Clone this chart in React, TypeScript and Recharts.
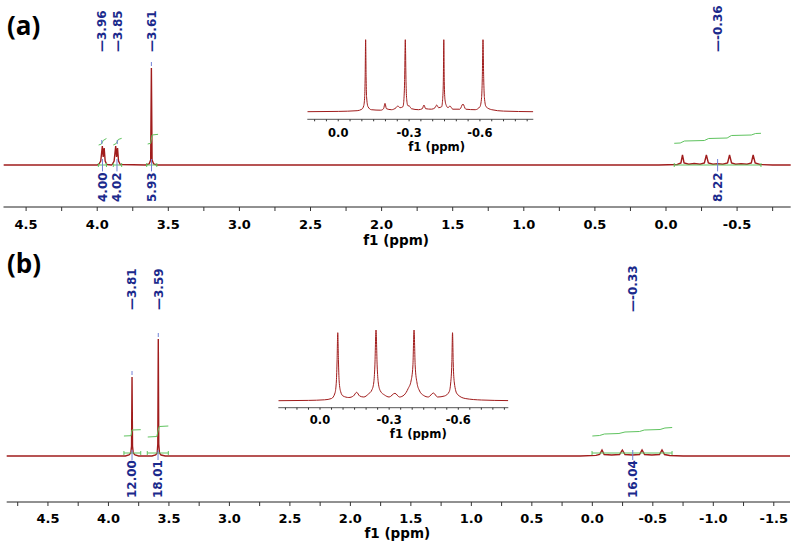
import React from 'react';
import { LineChart, Line, XAxis, YAxis, ReferenceDot, ReferenceLine } from 'recharts';

// spectrum (a): [ppm, intensity]
const spectrumA = [
  [4.66, 0], [4.0, 0], [3.99, 0.5], [3.975, 4], [3.964, 19], [3.958, 8], [3.951, 17], [3.944, 4], [3.932, 0.5], [3.9, 0],
  [3.895, 0.5], [3.881, 4], [3.87, 19], [3.864, 8], [3.857, 17], [3.85, 4], [3.838, 0.5], [3.66, 0],
  [3.635, 1], [3.624, 5], [3.619, 97], [3.614, 5], [3.603, 1], [3.58, 0],
  [0.05, 0], [-0.08, 0.5], [-0.105, 2], [-0.116, 10], [-0.127, 2], [-0.16, 0.8], [-0.198, 1.5], [-0.24, 0.8],
  [-0.27, 2], [-0.284, 10], [-0.298, 2], [-0.33, 0.8], [-0.363, 1.3], [-0.4, 0.8], [-0.433, 2], [-0.447, 10],
  [-0.461, 2], [-0.49, 0.8], [-0.528, 1.3], [-0.57, 0.8], [-0.6, 2], [-0.613, 10], [-0.627, 2], [-0.66, 0.5],
  [-0.75, 0], [-0.88, 0],
];

// spectrum (b)
const spectrumB = [
  [4.85, 0], [3.86, 0], [3.83, 1], [3.815, 3], [3.809, 10], [3.805, 79], [3.801, 10], [3.795, 3], [3.78, 1], [3.75, 0],
  [3.64, 0], [3.61, 1], [3.597, 3], [3.592, 12], [3.588, 117], [3.584, 12], [3.578, 3], [3.565, 1], [3.53, 0],
  [0.1, 0], [-0.03, 0.6], [-0.06, 1.5], [-0.08, 6], [-0.098, 1.5], [-0.16, 1], [-0.225, 1.5], [-0.248, 6],
  [-0.27, 1.5], [-0.33, 1], [-0.39, 1.5], [-0.411, 6], [-0.432, 1.5], [-0.492, 1], [-0.555, 1.5], [-0.576, 6],
  [-0.597, 1.5], [-0.64, 0.5], [-0.75, 0], [-1.64, 0],
];

// zoomed quartets
const insetSpecA = [
  [0.131, 0], [0.0, 0.3], [-0.08, 1], [-0.1, 2.5], [-0.108, 6], [-0.112, 15], [-0.114, 35], [-0.116, 72],
  [-0.118, 35], [-0.12, 15], [-0.126, 5], [-0.14, 2], [-0.18, 1.5], [-0.192, 3], [-0.198, 8.3], [-0.204, 3],
  [-0.225, 2], [-0.245, 4], [-0.252, 5.7], [-0.262, 4], [-0.274, 5], [-0.278, 12], [-0.281, 30], [-0.284, 72],
  [-0.287, 30], [-0.29, 12], [-0.295, 6], [-0.301, 5.7], [-0.31, 3], [-0.34, 2], [-0.356, 3], [-0.363, 6.7],
  [-0.37, 3], [-0.395, 2.5], [-0.41, 4], [-0.417, 6.7], [-0.425, 4], [-0.438, 5], [-0.442, 12], [-0.445, 30],
  [-0.447, 72], [-0.449, 30], [-0.452, 12], [-0.458, 6], [-0.465, 4], [-0.473, 5.7], [-0.485, 2.5], [-0.515, 2.5],
  [-0.528, 7.7], [-0.54, 2.5], [-0.58, 2], [-0.6, 5], [-0.607, 14], [-0.61, 33], [-0.613, 72], [-0.616, 33],
  [-0.619, 14], [-0.626, 5], [-0.65, 2], [-0.7, 0.6], [-0.826, 0],
];
const insetSpecB = [
  [0.181, 0.3], [0.05, 0.6], [-0.02, 1.2], [-0.05, 2.5], [-0.065, 8], [-0.071, 20], [-0.074, 40], [-0.077, 68.3],
  [-0.08, 40], [-0.083, 20], [-0.09, 9], [-0.1, 5], [-0.125, 3.5], [-0.145, 5], [-0.159, 8.7], [-0.172, 5],
  [-0.19, 4], [-0.21, 7], [-0.225, 11], [-0.233, 18], [-0.238, 35], [-0.243, 71], [-0.248, 35], [-0.253, 18],
  [-0.262, 10], [-0.28, 6], [-0.3, 4], [-0.325, 7.7], [-0.345, 4], [-0.365, 6], [-0.383, 12.7], [-0.395, 20],
  [-0.403, 35], [-0.408, 71], [-0.413, 35], [-0.421, 18], [-0.43, 11], [-0.45, 5.5], [-0.47, 4], [-0.492, 8],
  [-0.51, 4], [-0.54, 5], [-0.56, 9], [-0.567, 18], [-0.572, 38], [-0.575, 68.3], [-0.578, 38], [-0.583, 18],
  [-0.595, 7], [-0.63, 2.5], [-0.7, 1], [-0.817, 0.4],
];

// integrals: ranges [from, to] and curves [ppm, level]
const integralRangesA = [[3.992, 3.935], [3.887, 3.828], [3.652, 3.581], [-0.058, -0.668]];
const integralCurvesA = [
  [[3.99, 20], [3.97, 21], [3.958, 24.5], [3.935, 26.5]],
  [[3.887, 20], [3.866, 21.5], [3.852, 25.5], [3.828, 26.7]],
  [[3.645, 21], [3.624, 21.7], [3.614, 30], [3.572, 30.7]],
  [[-0.058, 21.7], [-0.1, 22], [-0.13, 24], [-0.27, 24.5], [-0.3, 26.5], [-0.43, 27], [-0.46, 29.5], [-0.6, 30], [-0.63, 31.5], [-0.668, 31.7]],
];
const integralRangesB = [[3.872, 3.733], [3.679, 3.505], [0.0025, -0.659]];
const integralCurvesB = [
  [[3.872, 20], [3.813, 20.3], [3.805, 26], [3.733, 26.3]],
  [[3.675, 19], [3.6, 19.5], [3.59, 25], [3.58, 29.5], [3.505, 30]],
  [[0.0, 20], [-0.06, 20.5], [-0.1, 22], [-0.22, 22.5], [-0.27, 24], [-0.39, 24.5], [-0.43, 26], [-0.56, 26.5], [-0.6, 28], [-0.66, 28.5]],
];

// peak picking labels
const peakPosA = [3.968, 3.859, 3.619];
const peakHeightA = [19, 19, 97];
const peakTextA = ['3.96', '3.85', '3.61'];
const multipletPosA = -0.366;
const multipletTextA = '-0.36';
const peakPosB = [3.805, 3.588];
const peakHeightB = [79, 117];
const peakTextB = ['3.81', '3.59'];
const multipletPosB = -0.336;
const multipletTextB = '-0.33';

const integralPosA = [3.963, 3.861, 3.618, -0.363];
const integralTextA = ['4.00', '4.02', '5.93', '8.22'];
const integralPosB = [3.805, 3.59, -0.334];
const integralTextB = ['12.00', '18.01', '16.04'];

const majorTicksA = [4.5, 4.0, 3.5, 3.0, 2.5, 2.0, 1.5, 1.0, 0.5, 0.0, -0.5];
const minorTicksA = [4.25, 3.75, 3.25, 2.75, 2.25, 1.75, 1.25, 0.75, 0.25, -0.25, -0.75];
const majorTicksB = [4.5, 4.0, 3.5, 3.0, 2.5, 2.0, 1.5, 1.0, 0.5, 0.0, -0.5, -1.0, -1.5];
const minorTicksB = [4.75, 4.25, 3.75, 3.25, 2.75, 2.25, 1.75, 1.25, 0.75, 0.25, -0.25, -0.75, -1.25];
const insetMajorTicks = [0.0, -0.3, -0.6];
const insetMinorTicksA = [0.1, 0.05, -0.05, -0.1, -0.15, -0.2, -0.25, -0.35, -0.4, -0.45, -0.5, -0.55, -0.65, -0.7, -0.75, -0.8];
const insetMinorTicksB = [0.15, ...insetMinorTicksA];

const RED = '#a01c1c';
const GREEN = '#5fc35f';
const NAVY = '#1b2a8c';
const LIGHTBLUE = '#7282d6';
const FONT = 'DejaVu Sans';

const rows = (pts: number[][]) => pts.map(([ppm, v]) => ({ ppm, v }));

function makeTick(majors: number[], len: number, fontSize: number, dy: number) {
  return (props: any) => {
    const { x, y, payload } = props;
    const v = payload.value;
    const isMajor = majors.some((m) => Math.abs(m - v) < 1e-9);
    return (
      <g>
        <line x1={x} x2={x} y1={y} y2={y + len} stroke="#333" strokeWidth={1} />
        {isMajor && (
          <text x={x} y={y + dy} textAnchor="middle" fontFamily={FONT} fontWeight={700} fontSize={fontSize} fill="#000">
            {v.toFixed(1)}
          </text>
        )}
      </g>
    );
  };
}

function makeTitle(dx: number, dy: number, fontSize: number) {
  return (props: any) => {
    const vb = props.viewBox || {};
    return (
      <text x={vb.x + vb.width / 2 + dx} y={vb.y + dy} textAnchor="middle" fontFamily={FONT} fontWeight={700} fontSize={fontSize} fill="#000">
        f1 (ppm)
      </text>
    );
  };
}

function VText({ cx, cy, text }: any) {
  const bx = cx + 4.3;
  return (
    <text x={bx} y={cy} transform={`rotate(-90 ${bx} ${cy})`} textAnchor="start" fontFamily={FONT} fontWeight={700} fontSize={12} fill={NAVY}>
      {text}
    </text>
  );
}

function integralMarks(ranges: number[][], curves: number[][][], level: number, prefix: string) {
  const out: any[] = [];
  ranges.forEach(([a, b], i) => {
    out.push(<ReferenceLine key={`${prefix}h${i}`} segment={[{ x: a, y: level }, { x: b, y: level }]} stroke={GREEN} strokeWidth={1} ifOverflow="visible" />);
    out.push(<ReferenceLine key={`${prefix}l${i}`} segment={[{ x: a, y: level - 2 }, { x: a, y: level + 2 }]} stroke={GREEN} strokeWidth={1} ifOverflow="visible" />);
    out.push(<ReferenceLine key={`${prefix}r${i}`} segment={[{ x: b, y: level - 2 }, { x: b, y: level + 2 }]} stroke={GREEN} strokeWidth={1} ifOverflow="visible" />);
  });
  curves.forEach((c, i) => {
    out.push(
      <Line key={`${prefix}c${i}`} data={rows(c)} dataKey="v" type="linear" stroke={GREEN} strokeWidth={1} dot={false} activeDot={false} isAnimationActive={false} />
    );
  });
  return out;
}

function topLabels(pos: number[], text: string[], heights: number[], labelY: number, prefix: string) {
  const out: any[] = [];
  pos.forEach((p, i) => {
    out.push(<ReferenceDot key={`${prefix}t${i}`} x={p} y={labelY} r={1} ifOverflow="visible" shape={(s: any) => <VText cx={s.cx} cy={s.cy} text={`\u2014${text[i]}`} />} />);
    if (heights[i] !== undefined) {
      out.push(<ReferenceLine key={`${prefix}k${i}`} segment={[{ x: p, y: heights[i] + 2 }, { x: p, y: heights[i] + 6 }]} stroke={LIGHTBLUE} strokeWidth={1} ifOverflow="visible" />);
    }
  });
  return out;
}

function bottomLabels(pos: number[], text: string[], labelY: number, prefix: string) {
  const out: any[] = [];
  pos.forEach((p, i) => {
    out.push(<ReferenceLine key={`${prefix}c${i}`} segment={[{ x: p, y: 6 }, { x: p, y: labelY + text[i].length * 7.4 + 1 }]} stroke={LIGHTBLUE} strokeWidth={1} ifOverflow="visible" />);
    out.push(<ReferenceDot key={`${prefix}b${i}`} x={p} y={labelY} r={1} ifOverflow="visible" shape={(s: any) => <VText cx={s.cx} cy={s.cy} text={text[i]} />} />);
  });
  return out;
}

function MainA() {
  return (
    <LineChart width={796} height={250} margin={{ top: 10, right: 5.3, bottom: 13, left: 3.5 }}>
      <XAxis type="number" dataKey="ppm" domain={[-0.877, 4.659]} reversed allowDataOverflow
        ticks={[...majorTicksA, ...minorTicksA]} interval={0} tickSize={0} tickMargin={0} tickLine={false}
        tick={makeTick(majorTicksA, 4, 13, 21.8)} axisLine={{ stroke: '#222' }} height={30}
        label={makeTitle(-1, 38, 13.5)} />
      <YAxis hide type="number" domain={[-42, 155]} allowDataOverflow />
      <Line data={rows(spectrumA)} dataKey="v" type="linear" stroke={RED} strokeWidth={1.4} dot={false} activeDot={false} isAnimationActive={false} />
      {integralMarks(integralRangesA, integralCurvesA, 0, 'ia')}
      {topLabels(peakPosA, peakTextA, peakHeightA, 113, 'pa')}
      {topLabels([multipletPosA], [multipletTextA], [], 113, 'ma')}
      {bottomLabels(integralPosA, integralTextA, -37, 'la')}
    </LineChart>
  );
}

function MainB() {
  return (
    <LineChart width={796} height={294} margin={{ top: 10, right: 6, bottom: 12, left: 6.7 }}>
      <XAxis type="number" dataKey="ppm" domain={[-1.634, 4.841]} reversed allowDataOverflow
        ticks={[...majorTicksB, ...minorTicksB]} interval={0} tickSize={0} tickMargin={0} tickLine={false}
        tick={makeTick(majorTicksB, 4, 13, 20.5)} axisLine={{ stroke: '#222' }} height={30}
        label={makeTitle(-1, 36.2, 13.5)} />
      <YAxis hide type="number" domain={[-46, 196]} allowDataOverflow />
      <Line data={rows(spectrumB)} dataKey="v" type="linear" stroke={RED} strokeWidth={1.4} dot={false} activeDot={false} isAnimationActive={false} />
      {integralMarks(integralRangesB, integralCurvesB, 3, 'ib')}
      {topLabels(peakPosB, peakTextB, peakHeightB, 146, 'pb')}
      {topLabels([multipletPosB], [multipletTextB], [], 144, 'mb')}
      {bottomLabels(integralPosB, integralTextB, -42, 'lb')}
    </LineChart>
  );
}

function InsetA() {
  return (
    <LineChart width={240} height={140} margin={{ top: 5, right: 6.7, bottom: 10.7, left: 7.3 }}>
      <XAxis type="number" dataKey="ppm" domain={[-0.826, 0.131]} reversed allowDataOverflow
        ticks={[...insetMajorTicks, ...insetMinorTicksA]} interval={0} tickSize={0} tickMargin={0} tickLine={false}
        tick={makeTick(insetMajorTicks, 2, 11.5, 17.4)} axisLine={{ stroke: '#555' }} height={30}
        label={makeTitle(16.4, 31.2, 11.7)} />
      <YAxis hide type="number" domain={[-7.6, 86.7]} allowDataOverflow />
      <Line data={rows(insetSpecA)} dataKey="v" type="monotone" stroke={RED} strokeWidth={1} dot={false} activeDot={false} isAnimationActive={false} />
    </LineChart>
  );
}

function InsetB() {
  return (
    <LineChart width={250} height={150} margin={{ top: 5, right: 11.7, bottom: 2.3, left: 8.3 }}>
      <XAxis type="number" dataKey="ppm" domain={[-0.817, 0.181]} reversed allowDataOverflow
        ticks={[...insetMajorTicks, ...insetMinorTicksB]} interval={0} tickSize={0} tickMargin={0} tickLine={false}
        tick={makeTick(insetMajorTicks, 2, 11.5, 16)} axisLine={{ stroke: '#555' }} height={30}
        label={makeTitle(25, 30.3, 11.7)} />
      <YAxis hide type="number" domain={[-6.7, 106]} allowDataOverflow />
      <Line data={rows(insetSpecB)} dataKey="v" type="monotone" stroke={RED} strokeWidth={1} dot={false} activeDot={false} isAnimationActive={false} />
    </LineChart>
  );
}

const letterStyle: React.CSSProperties = {
  position: 'absolute', left: 7, fontFamily: 'Open Sans', fontWeight: 700, fontSize: 26, lineHeight: '26px', color: '#000',
};

export default function App() {
  return (
    <div style={{ position: 'absolute', left: 0, top: 0, width: 796, height: 544, background: '#fff', overflow: 'hidden' }}>
      <div style={{ position: 'absolute', left: 0, top: 0 }}><MainA /></div>
      <div style={{ position: 'absolute', left: 0, top: 250 }}><MainB /></div>
      <div style={{ position: 'absolute', left: 300, top: 20 }}><InsetA /></div>
      <div style={{ position: 'absolute', left: 270, top: 290 }}><InsetB /></div>
      <div style={{ ...letterStyle, top: 12 }}>(a)</div>
      <div style={{ ...letterStyle, top: 250 }}>(b)</div>
    </div>
  );
}
